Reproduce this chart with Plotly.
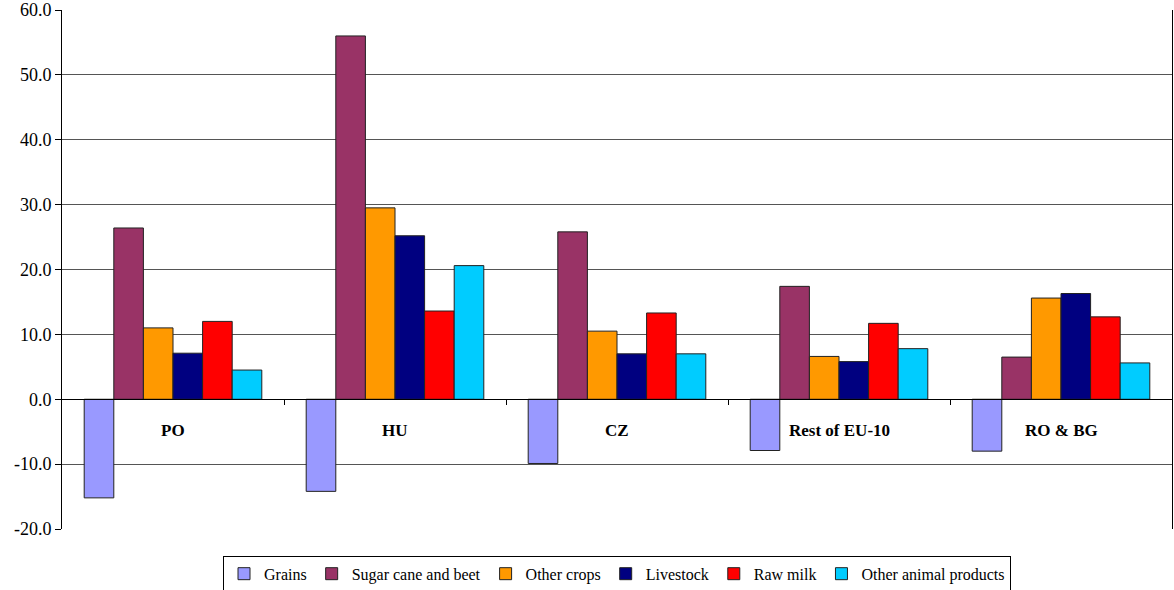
import plotly.graph_objects as go

regions = ["PO", "HU", "CZ", "Rest of EU-10", "RO & BG"]

grains = [-15.2, -14.2, -9.9, -7.9, -8.0]
sugar = [26.4, 56.0, 25.8, 17.4, 6.5]
other_crops = [11.0, 29.5, 10.5, 6.6, 15.6]
livestock = [7.1, 25.2, 7.0, 5.8, 16.3]
raw_milk = [12.0, 13.6, 13.3, 11.7, 12.7]
other_animal = [4.5, 20.6, 7.0, 7.8, 5.6]

series = [
    ("Grains", grains, "#9999FF"),
    ("Sugar cane and beet", sugar, "#993366"),
    ("Other crops", other_crops, "#FF9900"),
    ("Livestock", livestock, "#000080"),
    ("Raw milk", raw_milk, "#FF0000"),
    ("Other animal products", other_animal, "#00CCFF"),
]

y_ticks = [-20, -10, 0, 10, 20, 30, 40, 50, 60]
serif = "Liberation Serif"

xpos = list(range(len(regions)))

fig = go.Figure()
for name, vals, color in series:
    fig.add_trace(go.Bar(
        name=name, x=xpos, y=vals,
        marker=dict(color=color, line=dict(color="#222222", width=1)),
    ))

# region names sit just under the zero line
for i, r in enumerate(regions):
    fig.add_annotation(
        x=i, y=-4.8, xref="x", yref="y", text=f"<b>{r}</b>",
        showarrow=False, font=dict(family=serif, size=17, color="black"),
    )

fig.update_layout(
    width=1174, height=590,
    margin=dict(l=62, r=2, t=10, b=61, autoexpand=False),
    paper_bgcolor="white", plot_bgcolor="white",
    barmode="group", bargap=0.2, bargroupgap=0,
    font=dict(family=serif, size=16, color="black"),
    legend=dict(
        orientation="h", x=0.5, xanchor="center",
        yref="container", y=0.058, yanchor="top",
        bordercolor="black", borderwidth=1,
        font=dict(family=serif, size=16, color="black"),
        itemwidth=30, tracegroupgap=0,
        traceorder="normal",
    ),
    xaxis=dict(
        range=[-0.5, len(regions) - 0.5],
        showgrid=False, zeroline=False,
        showticklabels=False, ticks="",
        anchor="free", position=0.25,
        showline=True, linecolor="black", linewidth=1,
        minor=dict(tickvals=[i + 0.5 for i in range(len(regions) - 1)],
                   ticks="outside", ticklen=5, tickcolor="black"),
    ),
    yaxis=dict(
        range=[-20, 60], tickvals=y_ticks,
        ticktext=[f"{v:.1f}" for v in y_ticks],
        showgrid=True, gridcolor="#555555", gridwidth=1,
        zeroline=True, zerolinecolor="black", zerolinewidth=1,
        showline=True, linecolor="black", linewidth=1, mirror=True,
        ticks="outside", ticklen=6, tickcolor="black",
        ticklabeloverflow="allow",
        tickfont=dict(family=serif, size=18, color="black"),
    ),
)

fig.write_html("out.html")
